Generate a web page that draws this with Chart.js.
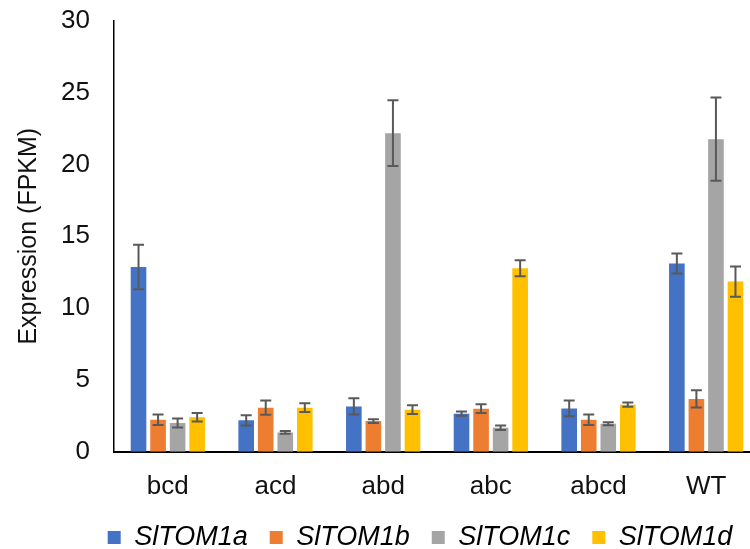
<!DOCTYPE html>
<html>
<head>
<meta charset="utf-8">
<script src="https://cdn.jsdelivr.net/npm/chart.js@4/dist/chart.umd.min.js"></script>
<style>
  html, body { margin: 0; padding: 0; background: #fff; overflow: hidden; }
  #wrap { width: 760px; height: 549px; }
</style>
</head>
<body>
<div id="wrap"><canvas id="c" width="760" height="549"></canvas></div>
<script>
const categories = ['bcd', 'acd', 'abd', 'abc', 'abcd', 'WT'];
const seriesNames = ['SlTOM1a', 'SlTOM1b', 'SlTOM1c', 'SlTOM1d'];
const valuesA = [12.86, 2.19, 3.16, 2.65, 3.02, 13.10];
const valuesB = [2.23, 3.07, 2.14, 3.00, 2.23, 3.68];
const valuesC = [2.00, 1.35, 22.17, 1.67, 1.95, 21.75];
const valuesD = [2.40, 3.07, 2.93, 12.77, 3.28, 11.84];
const errorsA = [1.55, 0.36, 0.57, 0.15, 0.55, 0.70];
const errorsB = [0.37, 0.50, 0.13, 0.30, 0.36, 0.60];
const errorsC = [0.31, 0.09, 2.29, 0.16, 0.10, 2.90];
const errorsD = [0.30, 0.30, 0.30, 0.55, 0.15, 1.05];
const yTicks = [0, 5, 10, 15, 20, 25, 30];

const colors = ['#4472C4', '#ED7D31', '#A5A5A5', '#FFC000'];
const allValues = [valuesA, valuesB, valuesC, valuesD];
const allErrors = [errorsA, errorsB, errorsC, errorsD];
const FONT = "Arial, 'Liberation Sans', sans-serif";

const errorBarPlugin = {
  id: 'errorBars',
  afterDatasetsDraw(chart) {
    const ctx = chart.ctx;
    const yScale = chart.scales.y;
    ctx.save();
    ctx.strokeStyle = '#595959';
    ctx.lineWidth = 2;
    chart.data.datasets.forEach((ds, di) => {
      const meta = chart.getDatasetMeta(di);
      meta.data.forEach((bar, i) => {
        const v = ds.data[i];
        const e = ds.errors[i];
        const yTop = yScale.getPixelForValue(v + e);
        const yBot = yScale.getPixelForValue(v - e);
        const x = bar.x;
        const cap = 5.5;
        ctx.beginPath();
        ctx.moveTo(x, yTop); ctx.lineTo(x, yBot);
        ctx.moveTo(x - cap, yTop); ctx.lineTo(x + cap, yTop);
        ctx.moveTo(x - cap, yBot); ctx.lineTo(x + cap, yBot);
        ctx.stroke();
      });
    });
    ctx.restore();
  }
};

const legendShift = {
  id: 'legendShift',
  afterLayout(chart) {
    const lg = chart.legend;
    if (lg) {
      lg.left += 40;
      lg.right += 40;
      lg.top -= 19;
      lg.bottom -= 19;
    }
  }
};

new Chart(document.getElementById('c'), {
  type: 'bar',
  data: {
    labels: categories,
    datasets: seriesNames.map((name, k) => ({
      label: name,
      data: allValues[k],
      errors: allErrors[k],
      backgroundColor: colors[k],
      borderWidth: 0,
      categoryPercentage: 0.726,
      barPercentage: 0.8
    }))
  },
  options: {
    responsive: false,
    animation: false,
    devicePixelRatio: 1,
    layout: { padding: { top: 0, right: 0, bottom: -31, left: 0 } },
    plugins: {
      tooltip: { enabled: false },
      legend: {
        position: 'bottom',
        labels: {
          boxWidth: 13,
          boxHeight: 13,
          padding: 22,
          color: '#000',
          font: { family: FONT, size: 27, style: 'italic' }
        }
      }
    },
    scales: {
      x: {
        grid: { display: false, drawTicks: false },
        border: { display: true, color: '#000', width: 2 },
        ticks: {
          color: '#111',
          padding: 19,
          maxRotation: 0,
          font: { family: FONT, size: 26 }
        }
      },
      y: {
        min: 0,
        max: 30,
        afterFit(scale) { scale.width = 114; },
        afterBuildTicks(scale) { scale.ticks = yTicks.map(v => ({ value: v })); },
        grid: { display: false, drawTicks: true, tickLength: 19 },
        border: { display: true, color: '#000', width: 1.5 },
        ticks: {
          color: '#111',
          padding: 5,
          font: { family: FONT, size: 26 }
        },
        title: {
          display: true,
          text: 'Expression (FPKM)',
          color: '#111',
          padding: { top: 14, bottom: 0 },
          font: { family: FONT, size: 25 }
        }
      }
    }
  },
  plugins: [errorBarPlugin, legendShift]
});
</script>
</body>
</html>
